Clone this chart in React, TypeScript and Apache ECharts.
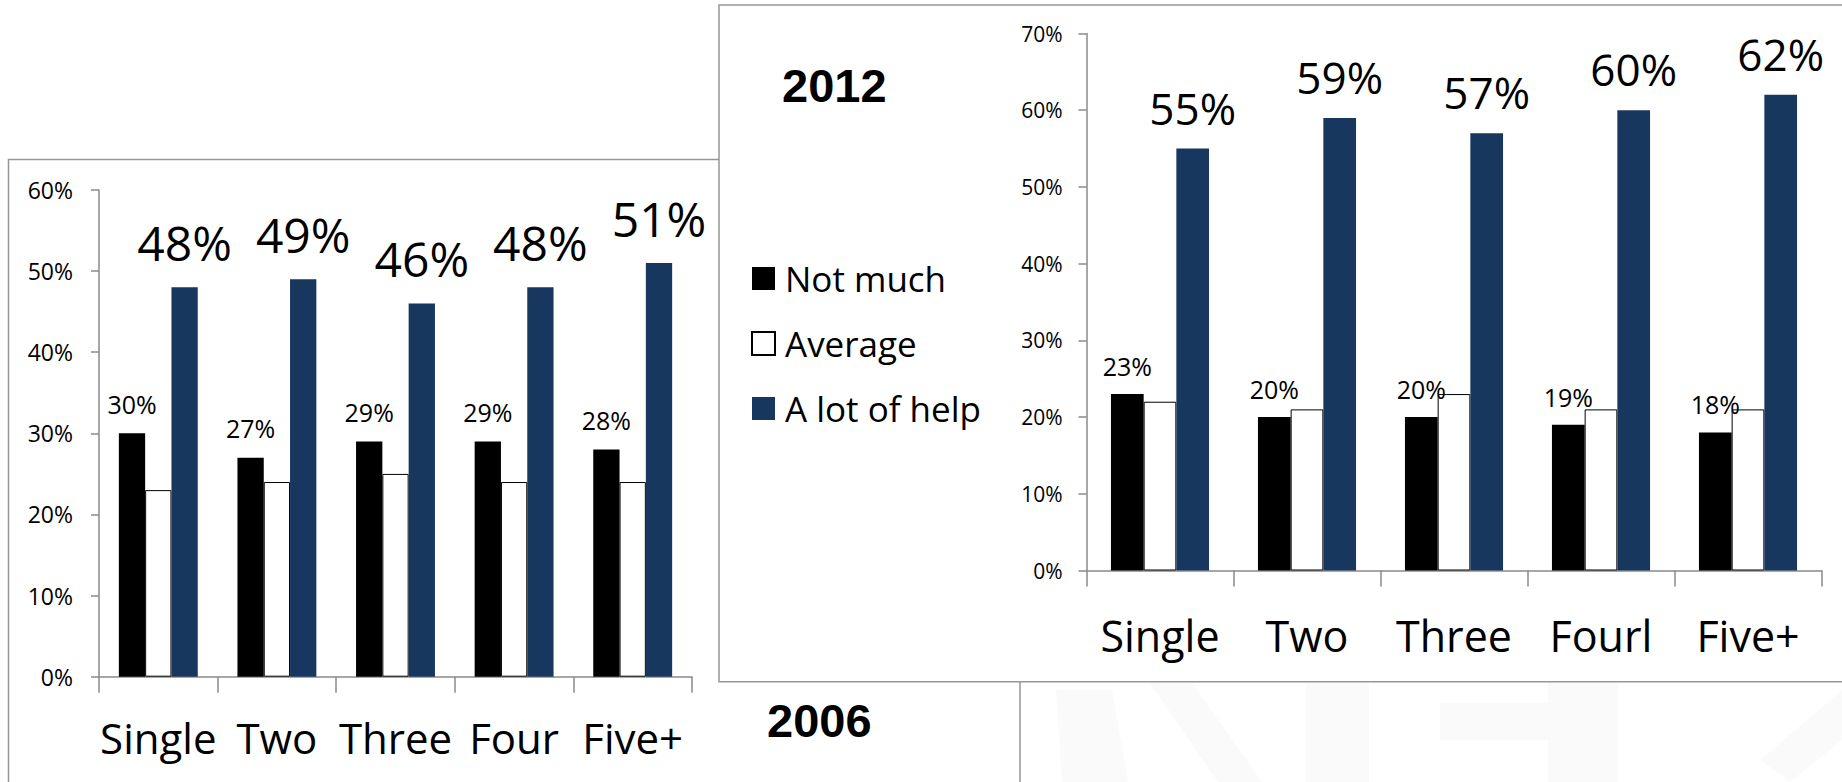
import React, { useEffect, useRef } from "react";
import * as echarts from "echarts";

// ---- data ----
const categories2006 = ["Single", "Two", "Three", "Four", "Five+"];
const categories2012 = ["Single", "Two", "Three", "Fourl", "Five+"];
const seriesNames = ["Not much", "Average", "A lot of help"];

const notMuch2006 = [30, 27, 29, 29, 28];
const average2006 = [23, 24, 25, 24, 24];
const aLotOfHelp2006 = [48, 49, 46, 48, 51];

const notMuch2012 = [23, 20, 20, 19, 18];
const average2012 = [22, 21, 23, 21, 21];
const aLotOfHelp2012 = [55, 59, 57, 60, 62];

const yMax2006 = 60;
const yMax2012 = 70;
const yStep = 10;

const title2006 = "2006";
const title2012 = "2012";

// ---- styles ----
const FONT = '"Open Sans", "Noto Sans", sans-serif';
const AXIS_GRAY = "#8a8a8a";
const BORDER_GRAY = "#969696";
const BLUE = "#17375E";

function makeXAxis(data: string[], gridIndex: number, fontSize: number, margin: number) {
  return {
    type: "category",
    gridIndex,
    data,
    axisLine: { show: true, lineStyle: { color: AXIS_GRAY, width: 1.5 } },
    axisTick: { show: true, interval: 0, length: 16, lineStyle: { color: AXIS_GRAY, width: 1.5 } },
    axisLabel: { color: "#000", fontFamily: FONT, fontSize, margin, interval: 0, hideOverlap: false },
    splitLine: { show: false },
  };
}

function makeYAxis(max: number, gridIndex: number, fontSize: number, margin: number) {
  return {
    type: "value",
    gridIndex,
    min: 0,
    max,
    interval: yStep,
    axisLine: { show: true, lineStyle: { color: AXIS_GRAY, width: 1.5 } },
    axisTick: { show: true, length: 8, lineStyle: { color: AXIS_GRAY, width: 1.5 } },
    axisLabel: { color: "#000", fontFamily: FONT, fontSize, margin, formatter: "{value}%" },
    splitLine: { show: false },
  };
}

function makeSeries(
  idx: number,
  barWidth: number,
  values: number[][],
  smallFont: number,
  smallDist: number,
  bigFont: number,
  bigDist: number
) {
  return [
    {
      name: seriesNames[0],
      type: "bar",
      xAxisIndex: idx,
      yAxisIndex: idx,
      data: values[0],
      barWidth,
      barGap: "0%",
      itemStyle: { color: "#000000" },
      label: {
        show: true,
        position: "top",
        distance: smallDist,
        formatter: "{c}%",
        color: "#000",
        fontFamily: FONT,
        fontSize: smallFont,
        lineHeight: smallFont,
      },
    },
    {
      name: seriesNames[1],
      type: "bar",
      xAxisIndex: idx,
      yAxisIndex: idx,
      data: values[1],
      barWidth,
      barGap: "0%",
      itemStyle: { color: "#ffffff", borderColor: "#000000", borderWidth: 1 },
    },
    {
      name: seriesNames[2],
      type: "bar",
      xAxisIndex: idx,
      yAxisIndex: idx,
      data: values[2],
      barWidth,
      barGap: "0%",
      itemStyle: { color: BLUE },
      label: {
        show: true,
        position: "top",
        distance: bigDist,
        formatter: "{c}%",
        color: "#000",
        fontFamily: FONT,
        fontSize: bigFont,
        lineHeight: bigFont,
      },
    },
  ];
}

export default function App() {
  const ref = useRef<HTMLDivElement | null>(null);

  useEffect(() => {
    if (!ref.current) return;
    const chart = echarts.init(ref.current, null, { renderer: "svg" });

    const watermark = [
      [[1056, 690], [1112, 690], [1128, 782], [1062, 782]],
      [[1150, 683], [1192, 683], [1262, 782], [1218, 782]],
      [[1306, 683], [1369, 683], [1369, 782], [1306, 782]],
      [[1440, 703], [1548, 703], [1548, 740], [1440, 740]],
      [[1548, 683], [1618, 683], [1618, 782], [1548, 782]],
      [[1760, 760], [1842, 690], [1842, 740], [1790, 782]],
    ];

    const option: any = {
      animation: false,
      backgroundColor: "#ffffff",
      textStyle: { fontFamily: FONT },
      grid: [
        { left: 99, top: 190, width: 593, height: 486.7, containLabel: false },
        { left: 1086.5, top: 33.5, width: 735, height: 537, containLabel: false },
      ],
      xAxis: [makeXAxis(categories2006, 0, 42, 40), makeXAxis(categories2012, 1, 43, 43)],
      yAxis: [makeYAxis(yMax2006, 0, 23, 26), makeYAxis(yMax2012, 1, 21, 24)],
      legend: {
        data: seriesNames,
        orient: "vertical",
        left: 751,
        top: 261,
        padding: 0,
        itemWidth: 23,
        itemHeight: 23,
        itemGap: 30,
        icon: "rect",
        selectedMode: false,
        textStyle: {
          fontFamily: FONT,
          fontSize: 35,
          lineHeight: 35,
          color: "#000",
          padding: [0, 0, 0, 5],
        },
      },
      graphic: [
        ...watermark.map((pts) => ({
          type: "polygon",
          z: -20,
          shape: { points: pts },
          style: { fill: "#fafafa" },
        })),
        {
          type: "rect",
          z: -10,
          shape: { x: 8.5, y: 159.5, width: 1011.5, height: 700 },
          style: { fill: "#ffffff", stroke: BORDER_GRAY, lineWidth: 1.5 },
        },
        {
          type: "rect",
          z: -9,
          shape: { x: 719, y: 5, width: 1200, height: 676.7 },
          style: { fill: "#ffffff", stroke: BORDER_GRAY, lineWidth: 1.5 },
        },
        {
          type: "text",
          z: 5,
          x: 782,
          y: 85,
          style: {
            text: title2012,
            font: 'bold 47px "Liberation Sans", Arial, sans-serif',
            fill: "#000",
            align: "left",
            verticalAlign: "middle",
          },
        },
        {
          type: "text",
          z: 5,
          x: 767,
          y: 720,
          style: {
            text: title2006,
            font: 'bold 47px "Liberation Sans", Arial, sans-serif',
            fill: "#000",
            align: "left",
            verticalAlign: "middle",
          },
        },
      ],
      series: [
        ...makeSeries(0, 26.3, [notMuch2006, average2006, aLotOfHelp2006], 25, 17, 48, 21),
        ...makeSeries(1, 32.7, [notMuch2012, average2012, aLotOfHelp2012], 25, 15.5, 44, 19),
      ],
    };

    chart.setOption(option);
    return () => {
      chart.dispose();
    };
  }, []);

  return (
    <div
      ref={ref}
      style={{ position: "fixed", left: 0, top: 0, width: 1842, height: 782, background: "#fff" }}
    />
  );
}
